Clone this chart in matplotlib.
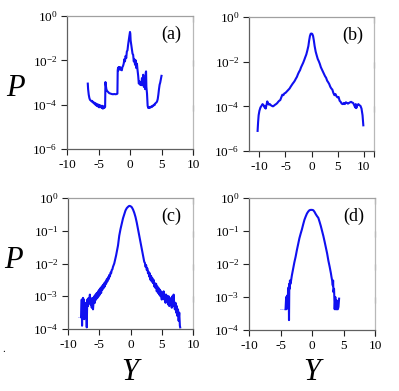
import numpy as np
import matplotlib
matplotlib.use("Agg")
import matplotlib.pyplot as plt
from matplotlib.ticker import FixedLocator, FixedFormatter, NullLocator

plt.rcParams['font.family'] = ['Liberation Serif', 'DejaVu Serif']
plt.rcParams['mathtext.fontset'] = 'custom'
plt.rcParams['mathtext.rm'] = 'Liberation Serif'
plt.rcParams['mathtext.it'] = 'Liberation Serif:italic'

# ---------------- data (x = Y, values = log10 P) ----------------
a_x = [-6.7, -6.65, -6.55, -6.45, -6.35, -6.2, -6.1, -6.0, -5.9, -5.8, -5.7, -5.6, -5.5, -5.4, -5.3,
       -5.2, -5.1, -5.0, -4.9, -4.8, -4.7, -4.6, -4.5, -4.4, -4.3, -4.2, -4.1, -4.0, -3.95, -3.9,
       -3.85, -3.75, -3.65, -3.5, -3.3, -3.1, -2.9, -2.7, -2.5, -2.3, -2.1, -2.0, -1.95, -1.9, -1.85,
       -1.8, -1.7, -1.6, -1.5, -1.4, -1.3, -1.2, -1.1, -1.0, -0.9, -0.8, -0.7, -0.6, -0.5, -0.4,
       -0.3, -0.2, -0.1, 0.0, 0.05, 0.1, 0.2, 0.3, 0.4, 0.5, 0.6, 0.7, 0.8, 0.9, 1.0,
       1.1, 1.2, 1.3, 1.4, 1.5, 1.6, 1.7, 1.8, 1.9, 2.0, 2.1, 2.2, 2.3, 2.4, 2.5,
       2.55, 2.6, 2.7, 2.8, 2.9, 3.0, 3.1, 3.2, 3.3, 3.4, 3.5, 3.6, 3.7, 3.8, 3.9,
       4.0, 4.1, 4.2, 4.3, 4.4, 4.5, 4.6, 4.7, 4.8, 4.9, 5.0]
a_logp = [-3.05, -3.3, -3.55, -3.7, -3.78, -3.82, -3.85, -3.83, -3.9, -3.88, -3.95, -3.92, -4.0, -3.95, -4.05,
          -3.98, -4.08, -4.0, -4.12, -4.02, -4.1, -4.05, -4.15, -4.05, -4.18, -4.08, -4.15, -4.12, -4.1, -2.98,
          -3.1, -3.3, -3.38, -3.42, -3.48, -3.5, -3.52, -3.53, -3.52, -3.53, -3.52, -3.5, -2.45, -2.35, -2.45,
          -2.3, -2.4, -2.3, -2.42, -2.35, -2.45, -2.3, -2.25, -2.15, -1.95, -2.05, -1.8, -1.9, -1.6, -1.55,
          -1.3, -1.1, -0.9, -0.72, -0.8, -1.1, -1.3, -1.5, -1.7, -1.75, -2.05, -1.95, -2.2, -2.0, -2.35,
          -2.15, -2.45, -2.7, -3.05, -2.95, -3.1, -3.0, -3.12, -2.8, -3.1, -2.65, -3.2, -2.9, -3.3, -2.55,
          -2.5, -3.2, -3.5, -4.05, -4.15, -4.12, -4.15, -4.1, -4.12, -4.08, -4.1, -4.05, -4.05, -4.0, -4.02,
          -3.95, -3.92, -3.9, -3.85, -3.75, -3.55, -3.3, -3.1, -3.0, -2.85, -2.7]

b_x = [-10.35, -10.25, -10.15, -10.0, -9.8, -9.6, -9.4, -9.2, -9.0, -8.9, -8.8, -8.65, -8.5, -8.35, -8.2,
       -8.0, -7.8, -7.6, -7.4, -7.2, -7.0, -6.8, -6.6, -6.4, -6.2, -6.0, -5.8, -5.6, -5.4, -5.2,
       -5.0, -4.8, -4.6, -4.4, -4.2, -4.0, -3.8, -3.6, -3.4, -3.2, -3.0, -2.8, -2.6, -2.4, -2.2,
       -2.0, -1.8, -1.6, -1.4, -1.2, -1.0, -0.8, -0.6, -0.45, -0.3, -0.15, 0.0, 0.15, 0.3, 0.45,
       0.6, 0.8, 1.0, 1.2, 1.4, 1.6, 1.8, 2.0, 2.2, 2.4, 2.6, 2.8, 3.0, 3.2, 3.4,
       3.6, 3.8, 4.0, 4.2, 4.4, 4.6, 4.8, 5.0, 5.2, 5.4, 5.6, 5.8, 6.0, 6.2, 6.4,
       6.6, 6.8, 7.0, 7.2, 7.4, 7.6, 7.8, 8.0, 8.2, 8.4, 8.5, 8.6, 8.8, 9.0, 9.2,
       9.4, 9.6, 9.8, 9.95]
b_logp = [-5.1, -4.7, -4.4, -4.2, -4.05, -3.98, -3.9, -3.95, -4.05, -4.0, -4.1, -3.95, -3.78, -3.85, -3.92,
          -3.9, -3.95, -3.98, -4.0, -3.97, -3.93, -3.9, -3.86, -3.8, -3.75, -3.72, -3.6, -3.48, -3.5, -3.42,
          -3.4, -3.35, -3.3, -3.25, -3.2, -3.12, -3.05, -2.98, -2.92, -2.85, -2.76, -2.68, -2.56, -2.46, -2.38,
          -2.25, -2.15, -2.05, -1.93, -1.8, -1.68, -1.5, -1.3, -1.05, -0.85, -0.75, -0.74, -0.76, -0.85, -1.05,
          -1.3, -1.55, -1.72, -1.88, -1.98, -2.1, -2.25, -2.35, -2.45, -2.55, -2.65, -2.72, -2.85, -2.92, -3.0,
          -3.12, -3.2, -3.25, -3.4, -3.5, -3.45, -3.55, -3.6, -3.58, -3.75, -3.8, -3.88, -3.9, -3.85, -3.9,
          -3.82, -3.85, -3.88, -3.85, -3.82, -3.8, -3.83, -3.85, -3.95, -4.05, -3.9, -4.08, -3.95, -3.9, -3.95,
          -3.98, -4.1, -4.4, -4.85]

c_x = [-8.45, -7.9, -7.8, -7.75, -7.7, -7.65, -7.6, -7.5, -7.45, -7.4, -7.3, -7.2, -7.1, -7.0, -6.95,
       -6.9, -6.8, -6.7, -6.6, -6.5, -6.4, -6.3, -6.2, -6.1, -6.0, -5.9, -5.8, -5.7, -5.6, -5.5,
       -5.4, -5.3, -5.2, -5.1, -5.0, -4.9, -4.8, -4.7, -4.6, -4.5, -4.4, -4.3, -4.2, -4.1, -4.0,
       -3.9, -3.8, -3.7, -3.6, -3.5, -3.4, -3.3, -3.2, -3.1, -3.0, -2.9, -2.8, -2.7, -2.6, -2.5,
       -2.4, -2.3, -2.2, -2.0, -1.8, -1.6, -1.4, -1.2, -1.0, -0.8, -0.6, -0.4, -0.2, 0.0, 0.2,
       0.4, 0.6, 0.8, 1.0, 1.2, 1.4, 1.6, 1.8, 2.0, 2.1, 2.2, 2.3, 2.4, 2.5, 2.6,
       2.7, 2.8, 2.9, 3.0, 3.1, 3.2, 3.3, 3.4, 3.5, 3.6, 3.7, 3.8, 3.9, 4.0, 4.1,
       4.2, 4.3, 4.4, 4.5, 4.6, 4.7, 4.8, 4.9, 5.0, 5.1, 5.2, 5.3, 5.4, 5.5, 5.6,
       5.7, 5.8, 5.9, 6.0, 6.1, 6.2, 6.3, 6.4, 6.5, 6.6, 6.7, 6.8, 6.9, 7.0, 7.1,
       7.2, 7.3, 7.4, 7.5, 7.6, 7.7, 7.8, 7.9, 7.95]
c_logp = [-3.64, -3.64, -3.1, -3.9, -3.2, -3.6, -3.05, -3.5, -3.1, -3.7, -3.3, -3.55, -3.2, -3.95, -3.4,
          -3.1, -3.3, -3.05, -3.2, -2.95, -3.25, -3.1, -3.35, -3.05, -3.4, -3.15, -3.0, -3.2, -2.95, -3.1,
          -2.9, -3.05, -2.85, -3.0, -2.8, -2.95, -2.75, -2.9, -2.7, -2.8, -2.65, -2.75, -2.6, -2.7, -2.55,
          -2.62, -2.48, -2.55, -2.42, -2.48, -2.35, -2.4, -2.28, -2.3, -2.2, -2.18, -2.1, -2.05, -2.0, -1.92,
          -1.85, -1.75, -1.65, -1.45, -1.15, -0.95, -0.78, -0.62, -0.5, -0.38, -0.31, -0.27, -0.24, -0.25, -0.28,
          -0.35, -0.45, -0.58, -0.75, -0.95, -1.15, -1.35, -1.55, -1.75, -1.85, -1.95, -1.98, -2.1, -2.05, -2.2,
          -2.15, -2.3, -2.25, -2.4, -2.3, -2.5, -2.38, -2.55, -2.45, -2.6, -2.5, -2.7, -2.6, -2.75, -2.62,
          -2.85, -2.7, -2.9, -2.75, -2.95, -2.8, -3.0, -2.85, -3.1, -2.9, -3.05, -2.85, -3.1, -2.95, -3.2,
          -2.95, -3.1, -3.0, -3.25, -3.0, -3.3, -3.05, -3.2, -3.1, -3.35, -3.0, -3.3, -2.95, -3.25, -3.4,
          -3.2, -3.5, -3.3, -3.6, -3.4, -3.75, -3.5, -3.9, -3.95]

d_x = [-5.1, -4.2, -4.1, -4.05, -4.0, -3.95, -3.9, -3.85, -3.8, -3.75, -3.7, -3.65, -3.6, -3.55, -3.5,
       -3.45, -3.4, -3.2, -3.0, -2.8, -2.6, -2.4, -2.2, -2.0, -1.8, -1.6, -1.4, -1.2, -1.0, -0.8,
       -0.6, -0.4, -0.2, 0.0, 0.2, 0.4, 0.6, 0.8, 1.0, 1.2, 1.4, 1.6, 1.8, 2.0, 2.2,
       2.4, 2.6, 2.8, 3.0, 3.1, 3.2, 3.3, 3.35, 3.4, 3.5, 3.55, 3.6, 3.7, 3.75, 3.85,
       3.9, 3.95, 4.1, 4.2, 4.3]
d_logp = [-3.37, -3.37, -3.0, -3.35, -3.05, -3.3, -2.95, -3.35, -2.75, -3.3, -2.7, -3.7, -2.6, -2.75, -2.5,
          -2.6, -2.6, -2.35, -2.15, -1.95, -1.78, -1.58, -1.4, -1.22, -1.08, -0.95, -0.8, -0.66, -0.56, -0.47,
          -0.41, -0.37, -0.36, -0.36, -0.37, -0.42, -0.49, -0.55, -0.6, -0.72, -0.85, -1.0, -1.15, -1.32, -1.5,
          -1.68, -1.9, -2.08, -2.28, -2.4, -2.5, -2.65, -2.5, -2.85, -2.75, -3.05, -3.37, -3.0, -3.37, -3.37,
          -3.1, -3.37, -3.37, -3.3, -3.05]

panel_labels = ['(a)', '(b)', '(c)', '(d)']
xticks = [-10, -5, 0, 5, 10]
xtick_labels = ['-10', '-5', '0', '5', '10']
yticks_top = [1e-6, 1e-4, 1e-2, 1e0]
yticks_top_labels = [r'$10^{-6}$', r'$10^{-4}$', r'$10^{-2}$', r'$10^{0}$']
yticks_bot = [1e-4, 1e-3, 1e-2, 1e-1, 1e0]
yticks_bot_labels = [r'$10^{-4}$', r'$10^{-3}$', r'$10^{-2}$', r'$10^{-1}$', r'$10^{0}$']

# ---------------- figure ----------------
fig = plt.figure(figsize=(3.99, 3.91), dpi=100)
W, H = 399.0, 391.0

def box(l, t, r, b):
    return [l / W, 1 - b / H, (r - l) / W, (b - t) / H]

boxes = [box(67, 16, 193, 149), box(249, 17, 374, 151),
         box(68, 198, 193, 329), box(249, 198, 375, 330)]
xlims = [(-10, 10), (-12, 12), (-10, 10), (-10, 10)]
data = [(a_x, a_logp), (b_x, b_logp), (c_x, c_logp), (d_x, d_logp)]
faint_start = [0, 0, 1, 1]  # leading segment drawn faint (c, d)
blue = '#1010f0'

for i, (bx, (xs, lp)) in enumerate(zip(boxes, data)):
    ax = fig.add_axes(bx)
    xs = np.array(xs)
    ps = np.power(10.0, np.array(lp))
    k = faint_start[i]
    if k:
        ax.plot(xs[:k + 1], ps[:k + 1], color='#8080ff', lw=0.7, ls=(0, (1, 1)))
    ax.plot(xs[k:], ps[k:], color=blue, lw=1.5)
    ax.set_yscale('log')
    ax.set_xlim(*xlims[i])
    if i < 2:
        ax.set_ylim(1e-6, 1e0)
        ax.yaxis.set_major_locator(FixedLocator(yticks_top))
        ax.yaxis.set_major_formatter(FixedFormatter(yticks_top_labels))
    else:
        ax.set_ylim(1e-4, 1e0)
        ax.yaxis.set_major_locator(FixedLocator(yticks_bot))
        ax.yaxis.set_major_formatter(FixedFormatter(yticks_bot_labels))
    ax.yaxis.set_minor_locator(NullLocator())
    ax.set_xticks(xticks)
    ax.set_xticklabels(xtick_labels)
    ax.tick_params(axis='both', which='major', labelsize=9.5, length=4, width=0.8,
                   direction='out', pad=3, colors='#222222', labelcolor='black')
    ax.tick_params(axis='y', right=True, labelright=False)
    for t in ax.yaxis.get_major_ticks():
        t.tick2line.set_marker(3)  # inward on right side
    ax.spines['left'].set_color('#606060')
    ax.spines['bottom'].set_color('#606060')
    ax.spines['top'].set_color('#a0a0a0')
    ax.spines['right'].set_color('#b8b8b8')
    for s in ax.spines.values():
        s.set_linewidth(0.9)
    ax.text(0.83, 0.86, panel_labels[i], transform=ax.transAxes, fontsize=13,
            ha='center', va='center')

for (px, py, s) in [(15, 88, 'P'), (13, 260, 'P'), (130, 373, 'Y'), (312, 373, 'Y')]:
    fig.text(px / W, 1 - py / H, s, fontsize=22, style='italic', ha='center', va='center')
fig.text(2 / W, 1 - 350 / H, '.', fontsize=8, ha='left', va='center')

fig.savefig('out.png', dpi=100)
